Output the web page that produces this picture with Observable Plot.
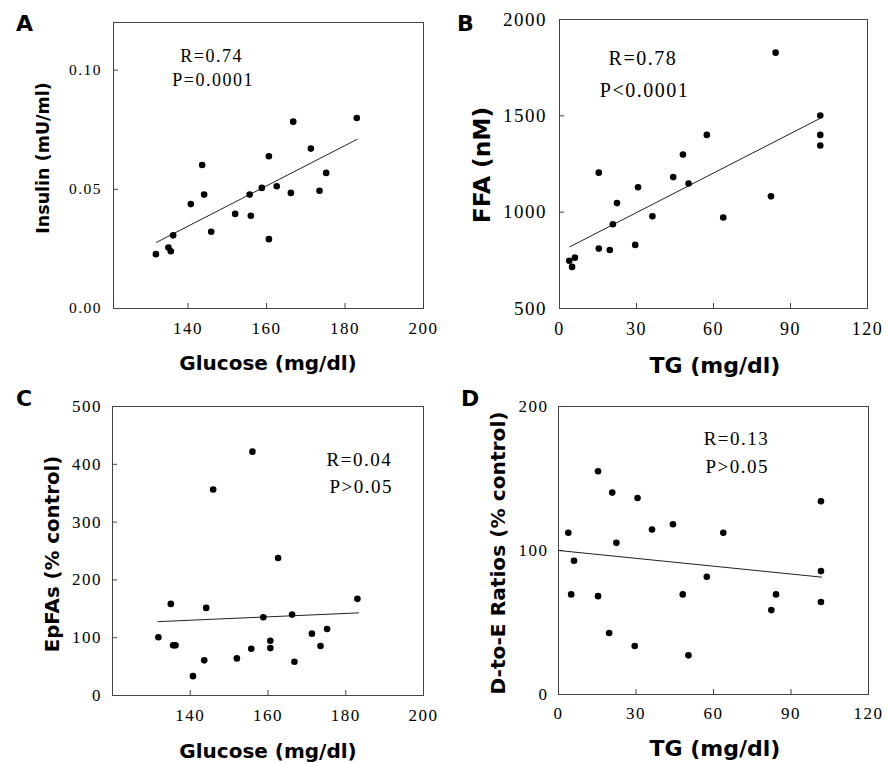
<!DOCTYPE html>
<html><head><meta charset="utf-8">
<script src="https://cdn.jsdelivr.net/npm/d3@7"></script>
<script src="https://cdn.jsdelivr.net/npm/@observablehq/plot@0.6"></script>
<style>
body{margin:0;background:#fff;}
#fig{position:relative;width:888px;height:763px;background:#fff;overflow:hidden;}
.panel{position:absolute;}
.panel svg text{font-family:"Liberation Serif",serif;letter-spacing:1.5px;}
.lbl{position:absolute;font-family:"DejaVu Sans",sans-serif;font-weight:bold;color:#000;white-space:nowrap;line-height:1;transform:translate(-50%,-50%);}
.lbl.rot{transform:translate(-50%,-50%) rotate(-90deg);}
.letter{position:absolute;font-family:"DejaVu Sans",sans-serif;font-weight:bold;font-size:22px;line-height:1;color:#000;}
</style></head><body><div id="fig"></div>
<script>
// ---- data ----
const glucose = [131.8,135.0,135.6,136.2,140.7,143.6,144.1,145.9,152.0,155.7,156.0,158.8,160.6,160.6,162.6,166.2,166.8,171.3,173.5,175.2,183.0];
const insulin = [0.0228,0.0256,0.0240,0.0307,0.0438,0.0602,0.0478,0.0322,0.0397,0.0478,0.0389,0.0506,0.0639,0.0291,0.0513,0.0485,0.0784,0.0671,0.0494,0.0569,0.0799];
const epfas = [100.7,158.5,86.8,86.8,33.5,60.8,151.6,356.4,64.2,81,421.9,135.4,94.8,82,237.8,140,58.4,107,85.6,115,167.2];
const tg = [3.8,4.9,6.0,15.3,15.3,19.6,20.8,22.4,29.5,30.6,36.2,44.3,48.1,50.3,57.4,63.8,82.4,84.2,101.6,101.6,101.6];
const ffa = [748,716,764,1205,811,804,937,1047,830,1129,979,1182,1299,1149,1401,972,1082,1828,1502,1401,1346];
const deRatio = [112.3,69.5,92.9,155,68.3,42.7,140.2,105.3,33.7,136.5,114.6,118.2,69.5,27.2,81.8,112.3,58.6,69.5,134.2,85.7,64.2];

// regression lines (end points)
const fitAx = [131.9, 183.1], fitAy = [0.0277, 0.0710];
const fitBx = [4.0, 101.4],   fitBy = [820, 1486];
const fitCx = [131.7, 183.3], fitCy = [127.8, 142.9];
const fitDx = [0, 101.9],     fitDy = [100, 81.5];

// tick values
const ticksGlucose = [140, 160, 180, 200];
const ticksInsulin = [0, 0.05, 0.10];
const ticksTG = [0, 30, 60, 90, 120];
const ticksFFA = [500, 1000, 1500, 2000];
const ticksEpFAs = [0, 100, 200, 300, 400, 500];
const ticksDE = [0, 100, 200];

// statistics annotations
const statTextA = ["R=0.74", "P=0.0001"], statXA = [146.0, 146.4], statYA = [0.1034, 0.0933];
const statTextB = ["R=0.78", "P<0.0001"], statXB = [32.5, 33.1], statYB = [1766, 1600];
const statTextC = ["R=0.04", "P>0.05"], statXC = [183.5, 184.0], statYC = [396.7, 350];
const statTextD = ["R=0.13", "P>0.05"], statXD = [68.9, 69.2], statYD = [173.4, 154];

// axis titles and panel letters
const xTitles = ["Glucose (mg/dl)", "TG (mg/dl)", "Glucose (mg/dl)", "TG (mg/dl)"];
const yTitles = ["Insulin (mU/ml)", "FFA (nM)", "EpFAs (% control)", "D-to-E Ratios (% control)"];
const letters = ["A", "B", "C", "D"];

const fig = document.getElementById("fig");
const zip = (a, b) => a.map((v, i) => ({x: v, y: b[i]}));
const serif = "Liberation Serif";

function panel(o) {
  const [mt, mr, mb, ml] = o.margins;
  const pw = o.width - ml - mr, ph = o.height - mt - mb;
  const frameColor = "#444";
  const chart = Plot.plot({
    width: o.width, height: o.height,
    marginTop: mt, marginRight: mr, marginBottom: mb, marginLeft: ml,
    x: {domain: o.xDomain},
    y: {domain: o.yDomain},
    marks: [
      Plot.ruleX(o.xTicks, {x: d => d, insetTop: ph - 5, stroke: frameColor}),
      Plot.ruleY(o.yTicks, {y: d => d, insetRight: pw - 5, stroke: frameColor}),
      Plot.axisX(o.xTicks, {tickSize: 0, tickPadding: o.xPad, label: null, tickFormat: d => String(d),
        fontSize: o.xFont, fontFamily: serif}),
      Plot.axisY(o.yTicks, {tickSize: 0, tickPadding: o.yPad, label: null, tickFormat: o.yFormat || (d => String(d)),
        fontSize: o.yFont, fontFamily: serif}),
      Plot.frame({stroke: frameColor}),
      Plot.line(zip(o.fitX, o.fitY), {x: "x", y: "y", stroke: "#222", strokeWidth: 1}),
      Plot.dot(zip(o.xs, o.ys), {x: "x", y: "y", r: 3.3, fill: "#000"}),
      Plot.text(o.statText.map((t, i) => ({t, x: o.statX[i], y: o.statY[i]})),
        {x: "x", y: "y", text: "t", lineAnchor: "bottom", textAnchor: "middle", fontSize: o.noteFont, fontFamily: serif, fill: "#000"})
    ]
  });
  const wrap = document.createElement("div");
  wrap.className = "panel";
  wrap.style.left = o.left + "px";
  wrap.style.top = o.top + "px";
  wrap.appendChild(chart);
  fig.appendChild(wrap);
}

panel({left: 0, top: 0, width: 444, height: 380, margins: [22, 21, 72, 113],
  xDomain: [121, 200], yDomain: [0, 0.12], xTicks: ticksGlucose, yTicks: ticksInsulin,
  yFormat: d3.format(".2f"), xs: glucose, ys: insulin, fitX: fitAx, fitY: fitAy,
  statText: statTextA, statX: statXA, statY: statYA, xFont: 17, yFont: 15.5, noteFont: 18, xPad: 13, yPad: 11.5});

panel({left: 444, top: 0, width: 444, height: 380, margins: [19, 21, 72, 115],
  xDomain: [0, 120], yDomain: [500, 2000], xTicks: ticksTG, yTicks: ticksFFA,
  xs: tg, ys: ffa, fitX: fitBx, fitY: fitBy,
  statText: statTextB, statX: statXB, statY: statYB, xFont: 18, yFont: 19, noteFont: 20, xPad: 14, yPad: 12.5});

panel({left: 0, top: 380, width: 444, height: 383, margins: [26, 21, 68, 112],
  xDomain: [120, 200], yDomain: [0, 500], xTicks: ticksGlucose, yTicks: ticksEpFAs,
  xs: glucose, ys: epfas, fitX: fitCx, fitY: fitCy,
  statText: statTextC, statX: statXC, statY: statYC, xFont: 17, yFont: 17, noteFont: 19, xPad: 13, yPad: 10.5});

panel({left: 444, top: 380, width: 444, height: 383, margins: [26, 20, 69, 114],
  xDomain: [0, 120], yDomain: [0, 200], xTicks: ticksTG, yTicks: ticksDE,
  xs: tg, ys: deRatio, fitX: fitDx, fitY: fitDy,
  statText: statTextD, statX: statXD, statY: statYD, xFont: 17, yFont: 17, noteFont: 19, xPad: 12.5, yPad: 10});

// axis titles (HTML text)
const xTitlePos = [[268, 363, 20], [715, 366, 22], [268, 750.5, 20], [715, 749, 22]];
const yTitlePos = [[43.8, 158, 17.5], [481.7, 165, 23.3], [53.3, 554, 19.8], [498.3, 553, 20.2]];
xTitles.forEach((t, i) => {
  const d = document.createElement("div");
  d.className = "lbl";
  d.textContent = t;
  d.style.left = xTitlePos[i][0] + "px";
  d.style.top = xTitlePos[i][1] + "px";
  d.style.fontSize = xTitlePos[i][2] + "px";
  fig.appendChild(d);
});
yTitles.forEach((t, i) => {
  const d = document.createElement("div");
  d.className = "lbl rot";
  d.textContent = t;
  d.style.left = yTitlePos[i][0] + "px";
  d.style.top = yTitlePos[i][1] + "px";
  d.style.fontSize = yTitlePos[i][2] + "px";
  fig.appendChild(d);
});
const letterPos = [[16, 13.4], [457, 13], [16, 388], [461, 388]];
letters.forEach((t, i) => {
  const d = document.createElement("div");
  d.className = "letter";
  d.textContent = t;
  d.style.left = letterPos[i][0] + "px";
  d.style.top = letterPos[i][1] + "px";
  fig.appendChild(d);
});
</script></body></html>
